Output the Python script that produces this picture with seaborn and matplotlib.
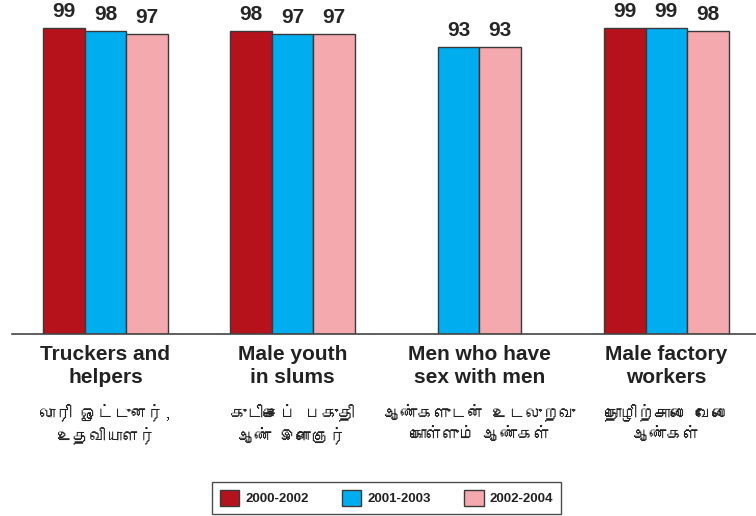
import numpy as np
import pandas as pd
import matplotlib
matplotlib.use("Agg")
import matplotlib.pyplot as plt
from matplotlib.patches import Patch
from matplotlib import font_manager as fm
import seaborn as sns

# ---------------- data ----------------
categories = ["Truckers and\nhelpers", "Male youth\nin slums",
              "Men who have\nsex with men", "Male factory\nworkers"]
tamil_labels = ["லாரி ஓட்டுனர்,\nஉதவியாளர்",
                "குடிசைப் பகுதி\nஆண் இளைஞர்",
                "ஆண்களுடன் உடலுறவு\nகொள்ளும் ஆண்கள்",
                "தொழிற்சாலை வேலை\nஆண்கள்"]
periods = ["2000-2002", "2001-2003", "2002-2004"]
v_2000_2002 = [99, 98, np.nan, 99]
v_2001_2003 = [98, 97, 93, 99]
v_2002_2004 = [97, 97, 93, 98]
colors = ["#B5121B", "#00AEEF", "#F4A9AE"]


def tamil_family():
    try:
        from fontTools.ttLib import TTFont
    except Exception:
        return None
    for f in fm.fontManager.ttflist:
        try:
            kw = {"fontNumber": 0} if f.fname.lower().endswith((".ttc", ".otc")) else {}
            tt = TTFont(f.fname, lazy=True, **kw)
            cmap = tt.getBestCmap() or {}
            if 0x0B95 in cmap and 0x0BBE in cmap:
                return f.name
        except Exception:
            continue
    return None


series = [v_2000_2002, v_2001_2003, v_2002_2004]
rows = []
for ci, cat in enumerate(categories):
    for pi, per in enumerate(periods):
        rows.append({"group": cat, "period": per, "value": series[pi][ci]})
df = pd.DataFrame(rows).dropna()

sns.set_theme(style="white")
plt.rcParams["font.family"] = ["Liberation Sans", "DejaVu Sans"]
tam = tamil_family()
tam_family = [tam, "DejaVu Sans"] if tam else ["DejaVu Sans"]

fig = plt.figure(figsize=(7.56, 5.16), dpi=100)
ax = fig.add_axes([12 / 756, 182 / 516, 1 - 12 / 756, 334 / 516])

bar_w = 0.222
for cat in categories:
    sub = df[df["group"] == cat]
    hues = [p for p in periods if p in set(sub["period"])]
    sns.barplot(data=sub, x="group", y="value", hue="period",
                order=categories, hue_order=hues,
                palette=[colors[periods.index(h)] for h in hues],
                width=bar_w * len(hues), dodge=True, saturation=1,
                edgecolor="#3a3a3a", linewidth=1.0, legend=False,
                errorbar=None, ax=ax)

for cont in ax.containers:
    labels = []
    for b in cont:
        h = b.get_height()
        labels.append(f"{h:.0f}" if np.isfinite(h) and h > 0 else "")
    ax.bar_label(cont, labels=labels, padding=5, fontsize=15,
                 fontweight="bold", color="#262626")

ax.set_xlim(-0.5, 3.48)
ax.set_ylim(0, 108.1)
ax.set_xlabel("")
ax.set_ylabel("")
ax.set_yticks([])
for s in ["left", "right", "top"]:
    ax.spines[s].set_visible(False)
ax.spines["bottom"].set_color("#444444")
ax.spines["bottom"].set_linewidth(1.2)

ax.tick_params(axis="x", length=0, pad=8, labelsize=15)
for lbl in ax.get_xticklabels():
    lbl.set_fontweight("bold")
    lbl.set_color("#222222")
    lbl.set_linespacing(1.25)

for i, t in enumerate(tamil_labels):
    ax.annotate(t, xy=(i, 0), xycoords=("data", "axes fraction"),
                xytext=(0, -50), textcoords="offset points",
                ha="center", va="top", fontsize=12, color="#222222",
                family=tam_family, linespacing=1.3, annotation_clip=False)

handles = [Patch(facecolor=c, edgecolor="#3a3a3a", linewidth=1.0) for c in colors]
leg = fig.legend(handles, periods, loc="center",
                 bbox_to_anchor=(386.5 / 756, 18 / 516), ncol=3,
                 frameon=True, fancybox=False, edgecolor="#222222",
                 prop={"weight": "bold", "size": 9.5},
                 handlelength=1.45, handleheight=1.45, handletextpad=0.45,
                 columnspacing=2.55, borderpad=0.6)
leg.get_frame().set_linewidth(1.0)
for t in leg.get_texts():
    t.set_color("#222222")

fig.savefig("out.png", dpi=100)
